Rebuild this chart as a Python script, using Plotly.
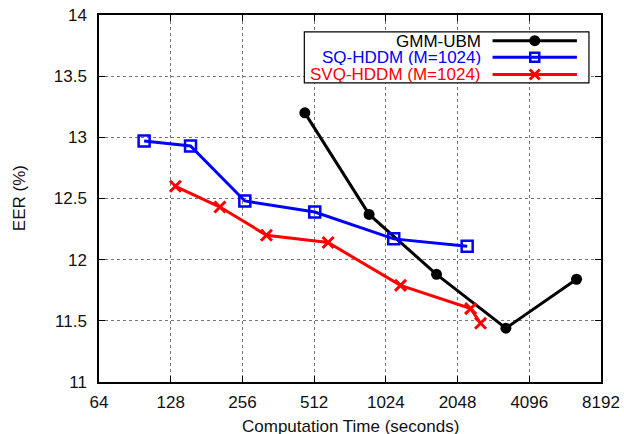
import math
import plotly.graph_objects as go

gmm_x = [468, 871, 1671, 3267, 6467]
gmm_y = [13.20, 12.37, 11.88, 11.44, 11.84]
sq_x = [99, 155, 262, 515, 1105, 2247]
sq_y = [12.97, 12.93, 12.48, 12.39, 12.17, 12.11]
svq_x = [134, 206, 323, 586, 1180, 2323, 2558]
svq_y = [12.60, 12.43, 12.20, 12.14, 11.79, 11.60, 11.48]

x_ticks = [64, 128, 256, 512, 1024, 2048, 4096, 8192]
x_labels = [str(v) for v in x_ticks]
y_ticks = [11, 11.5, 12, 12.5, 13, 13.5, 14]
y_labels = ["11", "11.5", "12", "12.5", "13", "13.5", "14"]

names = ["GMM-UBM", "SQ-HDDM (M=1024)", "SVQ-HDDM (M=1024)"]
colors = ["#000000", "#0000ff", "#ff0000"]

FONT = "Liberation Sans, Arial, sans-serif"
TXT = "#111111"

fig = go.Figure()
fig.add_trace(go.Scatter(x=gmm_x, y=gmm_y, mode="lines+markers", name=names[0],
                         line=dict(color=colors[0], width=3),
                         marker=dict(symbol="circle", size=11, color=colors[0])))
fig.add_trace(go.Scatter(x=sq_x, y=sq_y, mode="lines+markers", name=names[1],
                         line=dict(color=colors[1], width=3),
                         marker=dict(symbol="square-open", size=11, color=colors[1],
                                     line=dict(width=2.5, color=colors[1]))))
fig.add_trace(go.Scatter(x=svq_x, y=svq_y, mode="lines+markers", name=names[2],
                         line=dict(color=colors[2], width=3),
                         marker=dict(symbol="x-thin", size=11, color=colors[2],
                                     line=dict(width=3, color=colors[2]))))

axis_common = dict(showline=True, linecolor="black", linewidth=1.5, mirror="ticks",
                   ticks="inside", ticklen=6, tickcolor="black", tickwidth=1,
                   showgrid=True, gridcolor="#777777", gridwidth=1, griddash="dot",
                   zeroline=False, automargin=False,
                   tickfont=dict(family=FONT, size=17, color=TXT))

fig.update_xaxes(type="log", range=[math.log10(64), math.log10(8192)],
                 tickvals=x_ticks, ticktext=x_labels, ticklabelstandoff=4,
                 **axis_common)
fig.update_yaxes(range=[11, 14], tickvals=y_ticks, ticktext=y_labels, ticklabelstandoff=7,
                 **axis_common)

shapes = [dict(type="rect", xref="paper", yref="paper", x0=0.409, x1=0.976, y0=0.815, y1=0.954,
               line=dict(color="black", width=1.2), fillcolor="white", layer="above")]
annotations = [
    dict(xref="paper", yref="paper", x=0.5, y=-0.12, xanchor="center", yanchor="middle",
         text="Computation Time (seconds)", showarrow=False, font=dict(family=FONT, size=17, color=TXT)),
    dict(xref="paper", yref="paper", x=-0.158, y=0.5, xanchor="center", yanchor="middle",
         text="EER (%)", textangle=-90, showarrow=False, font=dict(family=FONT, size=17, color=TXT)),
]
row_y = [0.930, 0.885, 0.838]
for i in range(3):
    annotations.append(dict(xref="paper", yref="paper", x=0.762, y=row_y[i], xanchor="right",
                            yanchor="middle", text=names[i], showarrow=False, height=16,
                            valign="middle", borderpad=0,
                            font=dict(family=FONT, size=17, color=colors[i])))
    shapes.append(dict(type="line", xref="paper", yref="paper", x0=0.784, x1=0.952,
                       y0=row_y[i], y1=row_y[i], line=dict(color=colors[i], width=3), layer="above"))
mx = 0.868
shapes.append(dict(type="circle", xref="paper", yref="paper", xsizemode="pixel", ysizemode="pixel",
                   xanchor=mx, yanchor=row_y[0], x0=-5.5, x1=5.5, y0=-5.5, y1=5.5,
                   fillcolor=colors[0], line=dict(color=colors[0], width=0), layer="above"))
shapes.append(dict(type="rect", xref="paper", yref="paper", xsizemode="pixel", ysizemode="pixel",
                   xanchor=mx, yanchor=row_y[1], x0=-4.5, x1=4.5, y0=-4.5, y1=4.5,
                   line=dict(color=colors[1], width=2.5), layer="above"))
for sgn in (1, -1):
    shapes.append(dict(type="line", xref="paper", yref="paper", xsizemode="pixel", ysizemode="pixel",
                       xanchor=mx, yanchor=row_y[2], x0=-5, x1=5, y0=-5 * sgn, y1=5 * sgn,
                       line=dict(color=colors[2], width=3), layer="above"))

fig.update_layout(width=624, height=434, margin=dict(l=99, r=23, t=15, b=52),
                  plot_bgcolor="white", paper_bgcolor="white", showlegend=False,
                  shapes=shapes, annotations=annotations,
                  font=dict(family=FONT, size=17, color=TXT))

fig.write_html("out.html", config={"displayModeBar": False},
               post_script="document.body.style.margin='0';document.body.style.overflow='hidden';")
